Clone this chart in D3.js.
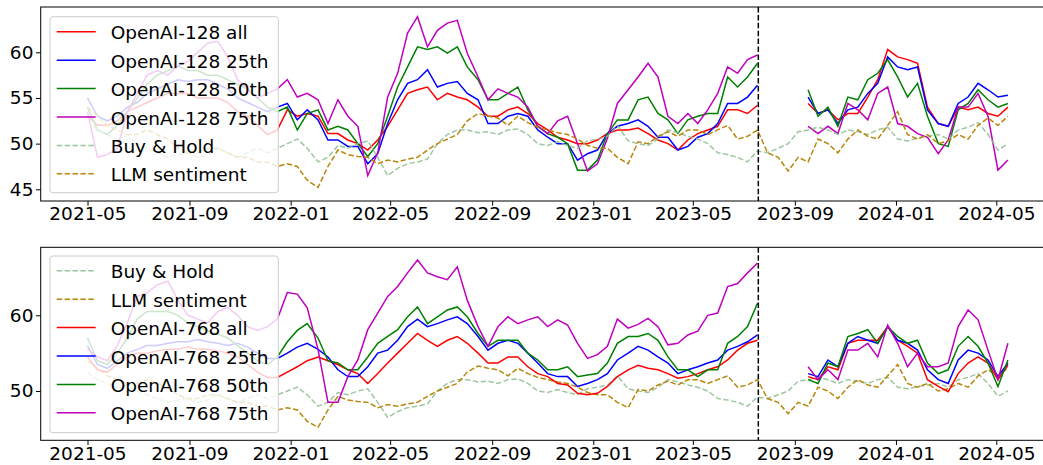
<!DOCTYPE html>
<html><head><meta charset="utf-8">
<script src="https://cdn.jsdelivr.net/npm/d3@7"></script>
<style>
body{margin:0;background:#fff;}
svg{display:block;font-family:"DejaVu Sans",sans-serif;}
</style></head><body>
<svg id="chart" width="1043" height="465"></svg>
<script>
// ---- data ----
const startDate = "2021-05-01";
const spanDays = 1110;          // last observation 2024-05-15
const nPoints = 93;
const splitDate = "2023-07-19";
const xTickLabels = ["2021-05","2021-09","2022-01","2022-05","2022-09","2023-01","2023-05","2023-09","2024-01","2024-05"];
const topYTicks = [45, 50, 55, 60];
const bottomYTicks = [50, 60];

const buyHold = [52.5,51.5,51.0,50.5,50.8,50.0,49.5,49.0,48.5,48.8,49.0,48.5,48.8,49.5,49.0,48.5,49.0,49.5,49.0,49.5,
 50.0,50.5,49.5,48.0,48.5,
 49.8,49.5,50.0,50.3,48.5,46.5,47.3,47.8,48.0,48.3,50.0,51.0,51.5,51.5,51.2,51.3,51.0,51.5,51.6,51.0,50.0,49.8,50.2,49.8,49.5,
 50.3,50.5,50.8,52.0,50.3,50.0,49.8,50.5,51.5,51.2,50.8,50.5,50.0,49.0,48.8,48.5,48.0,49.2,
 49.0,49.5,50.0,51.3,51.5,51.8,51.5,51.0,51.5,51.3,51.0,51.5,51.8,50.5,50.3,50.6,50.8,51.0,50.5,51.5,51.8,52.3,51.0,49.3,50.0];

const llmSentiment = [54.0,53.0,52.0,51.5,51.0,51.0,51.5,51.0,50.5,49.5,49.0,49.0,49.5,49.5,49.0,48.5,48.5,48.0,48.0,47.5,
 47.8,47.5,46.0,45.2,47.5,
 49.3,48.8,48.6,48.5,47.8,48.2,48.0,48.3,48.5,49.3,50.0,50.5,51.0,52.5,53.3,53.0,52.8,52.0,53.0,52.3,51.8,51.5,51.2,51.0,50.5,49.8,49.5,49.5,48.5,47.8,50.2,50.0,50.8,51.3,50.8,51.5,51.5,51.0,
 51.5,52.0,50.5,50.8,51.5,
 49.0,48.5,47.0,48.5,48.0,50.5,50.0,49.0,50.5,51.5,50.8,50.5,52.0,53.5,51.0,50.5,51.0,50.0,50.3,51.0,50.5,52.0,52.8,52.0,53.0];

const openai128All = [53.0,52.0,52.0,52.5,53.5,54.0,54.5,55.0,55.5,55.5,55.5,55.0,55.0,55.0,54.5,53.5,53.0,52.0,51.0,51.5,
 53.7,53.0,53.3,53.0,51.1,
 51.1,50.4,50.0,49.3,50.4,51.9,53.7,55.5,55.9,56.2,54.8,55.5,55.1,54.8,54.0,53.0,53.0,53.7,54.0,53.3,52.2,51.5,50.7,50.4,50.0,50.0,50.4,51.1,51.5,51.5,51.7,51.1,50.4,50.0,49.3,50.4,51.1,51.5,
 51.9,53.7,53.7,53.3,54.2,
 null,null,null,null,
 54.4,53.3,53.7,52.6,53.3,53.3,55.1,57.0,60.3,59.5,59.2,58.8,54.0,52.2,51.9,54.0,53.7,54.0,53.3,53.0,54.0];

const openai128P25 = [55.0,53.0,52.5,53.0,54.0,54.5,55.5,56.0,56.5,57.0,56.8,57.0,57.0,56.5,56.0,55.0,54.5,54.0,53.5,54.0,
 54.4,52.6,53.7,52.6,50.4,
 50.4,49.7,49.7,47.8,48.9,52.2,54.8,56.6,57.0,58.1,56.2,56.6,56.8,55.5,54.8,52.2,52.2,53.0,53.3,53.0,51.5,50.7,50.0,50.0,48.2,48.9,49.3,51.1,51.9,52.2,52.6,51.9,50.7,50.7,49.3,49.7,50.7,51.1,
 52.2,54.4,54.4,55.1,56.4,
 null,null,null,null,
 55.1,53.3,53.7,52.2,53.7,54.0,55.5,56.6,59.5,58.4,58.1,58.4,53.7,52.2,51.9,54.4,55.1,56.6,55.9,55.1,55.3];

const openai128P50 = [54.0,51.5,51.0,52.0,53.5,55.0,56.5,57.5,58.0,58.5,58.0,58.0,57.5,57.5,57.0,56.5,56.0,55.0,54.0,53.5,
 54.0,51.5,53.3,53.7,51.5,
 51.9,51.5,50.0,48.6,50.0,53.0,56.2,58.4,60.6,60.3,60.6,59.9,60.6,58.4,57.0,54.8,54.8,55.5,56.2,53.7,51.9,51.1,50.7,50.0,47.1,47.1,48.2,51.1,52.6,52.6,54.8,55.1,53.3,52.6,51.1,52.6,53.0,53.3,
 53.3,57.3,56.2,57.3,58.8,
 null,null,null,null,
 55.9,53.0,54.0,51.9,55.1,54.8,57.0,57.7,59.2,57.3,55.1,56.6,53.0,50.0,49.7,53.7,54.4,55.9,54.8,54.0,54.4];

const openai128P75 = [53.5,48.5,48.8,49.5,53.5,55.5,57.5,58.0,57.5,58.5,59.0,60.0,61.0,61.2,59.5,57.0,56.0,55.0,55.5,56.0,
 57.0,55.1,55.5,54.8,52.2,
 54.8,53.0,51.9,46.5,49.0,55.1,57.7,62.1,63.9,60.6,62.4,63.2,63.5,59.9,57.3,54.8,56.0,55.5,55.1,54.0,51.9,51.1,52.5,
 53.0,50.0,47.0,47.8,50.6,54.4,55.9,57.3,58.8,57.3,53.0,52.2,53.3,52.2,53.7,55.5,58.4,57.7,59.2,59.7,
 null,null,null,null,
 51.9,51.1,51.9,51.1,54.4,53.7,52.6,55.5,56.2,52.2,51.9,51.1,50.7,48.9,50.4,54.0,54.0,55.5,53.0,47.1,48.2];

const openai768All = [54.5,52.8,52.5,53.5,54.5,55.0,55.0,55.3,55.5,55.5,55.8,55.5,55.5,55.3,55.0,54.5,53.5,52.5,51.8,51.8,
 52.5,53.2,54.0,54.5,54.0,
 53.5,52.8,52.3,51.0,52.3,53.7,55.0,56.3,57.6,56.7,55.9,56.7,57.2,56.3,55.0,53.7,53.7,54.5,54.5,53.2,52.3,51.9,51.0,
 50.8,49.7,49.5,49.7,50.6,51.9,52.8,53.4,53.0,52.8,52.3,51.7,51.9,52.3,52.8,53.2,54.1,55.4,56.3,56.7,
 null,null,null,null,
 51.9,51.5,53.2,52.8,56.3,56.7,56.7,56.7,58.5,56.7,55.9,55.0,51.5,50.6,49.9,52.3,53.7,54.5,53.7,51.5,53.4];

const openai768P25 = [56.0,53.5,53.0,54.0,55.0,55.5,56.0,56.0,56.3,56.5,56.5,56.8,56.5,56.3,56.0,56.3,55.8,55.0,54.3,54.3,
 55.0,55.8,56.3,55.5,54.5,
 52.8,51.9,51.9,53.2,55.0,55.4,56.7,58.5,59.5,58.5,58.9,59.4,59.8,58.9,57.2,55.4,56.3,56.7,56.3,55.0,53.7,52.3,51.9,
 51.9,50.6,51.0,51.5,52.3,54.1,55.0,55.9,55.4,54.5,53.7,52.3,52.8,53.2,53.7,54.1,55.4,55.9,56.5,57.4,
 null,null,null,null,
 52.3,51.9,54.1,53.2,56.3,57.2,56.7,56.3,58.5,56.7,56.3,55.4,52.8,51.5,51.0,54.1,55.4,55.0,54.1,51.9,53.7];

const openai768P50 = [57.0,54.0,53.5,55.0,57.0,59.5,60.5,60.5,60.5,60.0,59.0,58.5,58.0,57.5,57.0,56.0,55.0,54.0,53.5,54.5,
 56.5,58.0,58.9,57.0,54.0,
 53.7,52.8,52.8,54.5,56.3,57.2,58.1,59.8,61.1,58.9,59.8,60.7,61.1,59.8,57.6,55.9,56.7,56.7,56.7,55.0,54.1,52.8,52.8,
 53.2,51.9,52.1,52.3,53.7,56.3,57.2,57.2,57.6,56.7,54.5,52.8,52.8,51.9,52.8,52.8,56.3,57.2,58.5,61.6,
 null,null,null,null,
 51.5,51.0,53.7,53.2,57.2,57.6,58.1,56.3,58.5,57.2,56.3,56.7,53.7,52.3,52.8,55.9,57.2,55.9,53.7,50.6,54.1];

const openai768P75 = [55.5,54.5,54.0,56.0,59.0,62.5,63.0,64.0,64.5,62.0,60.0,59.5,59.0,60.5,61.0,60.0,58.5,58.0,58.5,59.5,
 63.0,62.8,61.0,55.5,48.5,
 48.5,51.9,54.1,58.1,60.3,62.5,63.8,65.6,67.3,65.6,65.1,64.7,66.4,62.0,58.5,55.9,58.5,59.8,58.9,59.4,59.8,58.5,59.4,
 58.7,56.3,54.3,54.8,55.9,59.5,58.3,58.8,59.6,58.5,56.1,56.3,57.4,57.9,60.0,60.3,63.8,64.2,65.6,66.9,
 null,null,null,null,
 53.2,51.5,52.8,51.5,55.4,55.4,56.3,54.5,58.7,56.3,53.2,55.0,53.2,53.2,53.7,58.5,60.7,59.4,55.4,51.5,56.3];

// ---- chart ----
const parse = d3.timeParse("%Y-%m-%d");
const parseYM = d3.timeParse("%Y-%m");
const t0 = parse(startDate);
const dates = d3.range(nPoints).map(i => d3.timeDay.offset(t0, Math.round(i * spanDays / (nPoints - 1))));

const svg = d3.select("#chart");
const FONT = 18.5;
const axLeft = 40.7, axRight = 1053;
const x = d3.scaleTime().domain([parse("2021-05-01"), parse("2024-05-01")]).range([87.5, 996.3]);

const styles = {
  red:   {color: "#ff0000", dash: null},
  blue:  {color: "#0000ff", dash: null},
  green: {color: "#008000", dash: null},
  mag:   {color: "#bf00bf", dash: null},
  bh:    {color: "#8fbc8f", dash: "5.5,2.4"},
  llm:   {color: "#b8860b", dash: "5.5,2.4"}
};

function panel(cfg) {
  const y = d3.scaleLinear().domain(cfg.yDomain).range([cfg.bottom, cfg.top]);
  const g = svg.append("g");
  const clipId = "clip" + cfg.id;
  svg.append("clipPath").attr("id", clipId).append("rect")
    .attr("x", axLeft).attr("y", cfg.top).attr("width", axRight - axLeft).attr("height", cfg.bottom - cfg.top);

  const lines = g.append("g").attr("clip-path", `url(#${clipId})`);
  const line = d3.line().defined(d => d[1] != null).x(d => x(d[0])).y(d => y(d[1]));
  cfg.series.forEach(s => {
    const st = styles[s.style];
    lines.append("path")
      .datum(dates.map((d, i) => [d, s.values[i]]))
      .attr("d", line).attr("fill", "none")
      .attr("stroke", st.color).attr("stroke-width", 1.5)
      .attr("stroke-opacity", s.style === "bh" ? 0.85 : 1)
      .attr("stroke-dasharray", st.dash);
  });
  // split line
  lines.append("line")
    .attr("x1", x(parse(splitDate))).attr("x2", x(parse(splitDate)))
    .attr("y1", cfg.top).attr("y2", cfg.bottom)
    .attr("stroke", "#000").attr("stroke-width", 1.5).attr("stroke-dasharray", "5.5,2.4");

  // spines
  g.append("rect").attr("x", axLeft).attr("y", cfg.top)
    .attr("width", axRight - axLeft).attr("height", cfg.bottom - cfg.top)
    .attr("fill", "none").attr("stroke", "#000").attr("stroke-width", 1);

  // y axis
  const ya = g.append("g").attr("transform", `translate(${axLeft},0)`)
    .call(d3.axisLeft(y).tickValues(cfg.yTicks).tickSize(4.7).tickPadding(2.6).tickFormat(d3.format("d")));
  ya.select(".domain").remove();
  ya.selectAll("text").attr("font-size", FONT).attr("font-family", "DejaVu Sans").attr("fill", "#000");
  ya.selectAll("line").attr("stroke", "#000");

  // x axis
  const xa = g.append("g").attr("transform", `translate(0,${cfg.bottom})`)
    .call(d3.axisBottom(x).tickValues(xTickLabels.map(parseYM)).tickSize(4.7).tickPadding(cfg.xPad).tickFormat(d3.timeFormat("%Y-%m")));
  xa.select(".domain").remove();
  xa.selectAll("text").attr("font-size", FONT).attr("font-family", "DejaVu Sans").attr("fill", "#000");
  xa.selectAll("line").attr("stroke", "#000");

  // legend
  const lg = g.append("g");
  lg.append("rect").attr("x", 50).attr("y", cfg.legTop).attr("width", 228.3).attr("height", cfg.legBottom - cfg.legTop)
    .attr("rx", 3).attr("fill", "#fff").attr("fill-opacity", 0.8).attr("stroke", "#cccccc").attr("stroke-width", 1);
  cfg.legend.forEach((s, i) => {
    const st = styles[s.style];
    const base = cfg.legBase + i * 28.4;
    lg.append("line").attr("x1", 56.7).attr("x2", 95.7).attr("y1", base - 7.5).attr("y2", base - 7.5)
      .attr("stroke", st.color).attr("stroke-width", 1.5).attr("stroke-dasharray", st.dash)
      .attr("stroke-opacity", s.style === "bh" ? 0.85 : 1);
    lg.append("text").attr("x", 110.7).attr("y", base).attr("font-size", FONT).attr("fill", "#000").text(s.label);
  });
}

const topSeries = [
  {label: "OpenAI-128 all", values: openai128All, style: "red"},
  {label: "OpenAI-128 25th", values: openai128P25, style: "blue"},
  {label: "OpenAI-128 50th", values: openai128P50, style: "green"},
  {label: "OpenAI-128 75th", values: openai128P75, style: "mag"},
  {label: "Buy & Hold", values: buyHold, style: "bh"},
  {label: "LLM sentiment", values: llmSentiment, style: "llm"}
];
const bottomSeries = [
  {label: "Buy & Hold", values: buyHold, style: "bh"},
  {label: "LLM sentiment", values: llmSentiment, style: "llm"},
  {label: "OpenAI-768 all", values: openai768All, style: "red"},
  {label: "OpenAI-768 25th", values: openai768P25, style: "blue"},
  {label: "OpenAI-768 50th", values: openai768P50, style: "green"},
  {label: "OpenAI-768 75th", values: openai768P75, style: "mag"}
];

panel({id: "top", top: 7, bottom: 201, yDomain: [43.72, 64.96], yTicks: topYTicks, xPad: 1.2,
  series: topSeries, legend: topSeries, legTop: 16.7, legBottom: 192.7, legBase: 39.3});
panel({id: "bot", top: 247.3, bottom: 440.3, yDomain: [43.49, 68.98], yTicks: bottomYTicks, xPad: 2.3,
  series: bottomSeries, legend: bottomSeries, legTop: 256, legBottom: 432.7, legBase: 278.3});
</script>
</body></html>
